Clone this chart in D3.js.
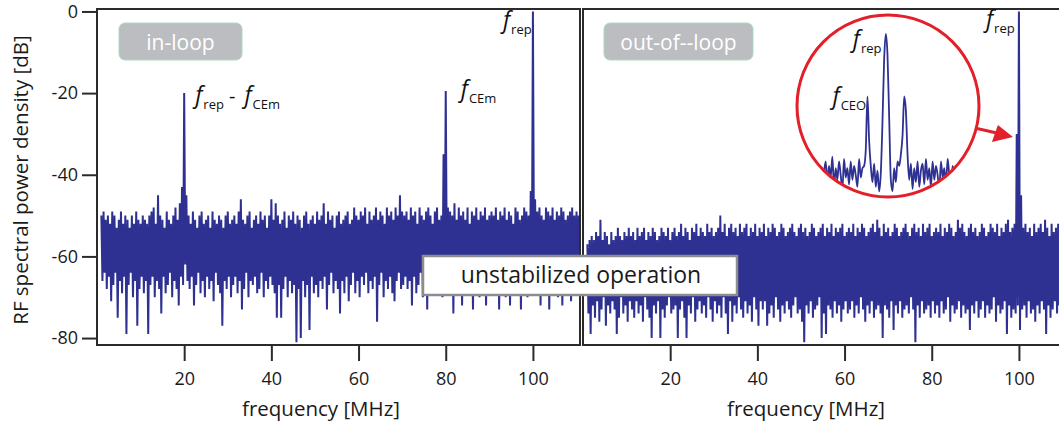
<!DOCTYPE html>
<html>
<head>
<meta charset="utf-8">
<script src="https://cdn.jsdelivr.net/npm/d3@7"></script>
<style>
  html, body { margin: 0; padding: 0; background: #fff; }
  svg { display: block; font-family: "Open Sans", "Noto Sans", sans-serif; }
</style>
</head>
<body>
<svg id="chart" width="1059" height="432"></svg>
<script>
// ---- Spectrum data: per-bin maximum / minimum level in dB ----
// Bins start at 1 MHz and are 0.5 MHz wide (20 bins per row = 10 MHz).
const freqStartMHz = 1;
const binStepMHz = 0.5;

const inLoopMax = [
  -50,-49,-51,-50,-52,-49,-50,-53,-51,-49,-52,-50,-51,-53,-50,-52,-49,-51,-52,-50,
  -51,-52,-50,-49,-48,-52,-45,-50,-51,-53,-49,-51,-52,-50,-48,-51,-47,-43,-20,-45,
  -50,-52,-49,-51,-53,-50,-49,-52,-51,-50,-53,-49,-51,-52,-50,-51,-53,-50,-49,-52,
  -51,-50,-52,-49,-46,-51,-52,-50,-49,-53,-51,-50,-52,-49,-51,-50,-53,-50,-46,-51,
  -47,-50,-52,-51,-49,-53,-50,-51,-49,-52,-50,-51,-53,-50,-49,-52,-51,-50,-52,-49,
  -51,-50,-47,-52,-49,-51,-50,-53,-50,-49,-52,-51,-50,-49,-52,-51,-48,-50,-51,-49,
  -50,-48,-52,-49,-51,-50,-48,-51,-49,-50,-52,-48,-50,-49,-51,-48,-50,-45,-49,-50,
  -49,-51,-48,-50,-49,-52,-48,-50,-51,-49,-48,-50,-52,-49,-48,-51,-50,-35,-19.5,-48,
  -49,-50,-47,-51,-48,-50,-49,-51,-48,-52,-49,-50,-48,-51,-49,-50,-48,-51,-50,-49,
  -50,-48,-51,-49,-50,-48,-51,-49,-50,-52,-48,-49,-51,-50,-48,-49,-50,-44,0,-46,
  -49,-48,-50,-51,-48,-49,-50,-48,-51,-49,-50,-48,-49,-51,-50,-49,-48,-50,-49,-50
];
const inLoopMin = [
  -66,-64,-68,-65,-71,-67,-64,-75,-66,-69,-65,-79,-67,-64,-70,-66,-77,-68,-65,-69,
  -66,-79,-67,-65,-70,-66,-68,-74,-65,-69,-67,-64,-70,-66,-68,-72,-65,-67,-62,-66,
  -68,-65,-72,-67,-64,-69,-66,-70,-65,-68,-66,-71,-64,-67,-69,-77,-66,-68,-65,-70,
  -67,-65,-69,-66,-73,-68,-64,-70,-66,-67,-65,-69,-68,-64,-70,-66,-68,-65,-67,-69,
  -75,-67,-75,-68,-65,-70,-66,-69,-67,-81,-68,-80,-66,-70,-67,-78,-65,-69,-67,-70,
  -66,-68,-65,-73,-67,-64,-69,-66,-68,-74,-66,-69,-65,-71,-67,-64,-69,-66,-70,-65,
  -67,-64,-69,-66,-68,-65,-76,-67,-64,-70,-66,-68,-65,-69,-71,-66,-64,-68,-67,-65,
  -68,-66,-72,-65,-69,-67,-64,-70,-66,-73,-65,-68,-67,-64,-69,-66,-70,-65,-62,-66,
  -67,-74,-66,-68,-65,-72,-67,-64,-69,-66,-73,-68,-65,-70,-66,-67,-72,-65,-69,-66,
  -68,-65,-73,-67,-64,-70,-66,-72,-68,-65,-69,-66,-73,-64,-68,-70,-66,-67,-62,-69,
  -66,-72,-67,-65,-69,-73,-66,-68,-64,-70,-67,-72,-65,-68,-66,-71,-67,-64,-69,-66
];

const outLoopMax = [
  -57,-56,-55,-56,-54,-55,-51,-56,-54,-55,-57,-54,-56,-55,-53,-55,-56,-54,-55,-53,
  -55,-54,-56,-53,-55,-54,-53,-56,-54,-55,-53,-54,-56,-55,-53,-54,-55,-53,-56,-54,
  -53,-55,-54,-52,-55,-53,-54,-56,-53,-54,-52,-55,-53,-54,-55,-52,-54,-53,-55,-54,
  -53,-50,-54,-52,-55,-53,-52,-54,-53,-55,-52,-54,-53,-52,-55,-53,-54,-52,-55,-53,
  -54,-52,-55,-53,-54,-52,-53,-55,-54,-52,-53,-55,-54,-53,-52,-54,-55,-53,-52,-54,
  -53,-55,-54,-52,-53,-55,-54,-53,-52,-55,-53,-54,-52,-55,-53,-54,-53,-52,-55,-54,
  -53,-54,-52,-55,-53,-54,-52,-53,-55,-54,-53,-52,-54,-51,-53,-55,-52,-54,-53,-55,
  -54,-52,-53,-55,-54,-53,-52,-54,-55,-53,-52,-54,-53,-55,-52,-54,-53,-52,-55,-54,
  -53,-54,-52,-55,-53,-54,-52,-53,-55,-54,-51,-53,-52,-54,-55,-53,-52,-54,-53,-55,
  -54,-52,-53,-55,-54,-52,-53,-54,-52,-55,-53,-54,-52,-51,-54,-53,-52,-30,0,-45,
  -53,-52,-54,-53,-55,-52,-54,-53,-52,-54,-51,-53,-55,-52,-54,-53,-52,-55,-53,-54
];
const outLoopMin = [
  -74,-79,-72,-75,-71,-76,-73,-70,-77,-72,-74,-71,-73,-79,-75,-70,-74,-72,-76,-71,
  -73,-75,-71,-74,-72,-76,-70,-73,-75,-80,-72,-74,-71,-80,-73,-75,-72,-70,-74,-73,
  -72,-80,-73,-71,-75,-80,-72,-74,-70,-76,-73,-71,-74,-72,-75,-70,-73,-76,-71,-74,
  -72,-75,-70,-74,-79,-71,-76,-72,-74,-70,-73,-75,-71,-74,-72,-76,-70,-73,-77,-71,
  -73,-71,-77,-74,-72,-75,-70,-73,-76,-72,-74,-71,-73,-75,-72,-70,-74,-73,-76,-81,
  -72,-74,-71,-75,-73,-72,-70,-80,-74,-79,-72,-73,-75,-71,-74,-72,-76,-73,-71,-74,
  -73,-71,-75,-72,-74,-70,-73,-76,-72,-74,-71,-75,-73,-72,-74,-80,-72,-73,-75,-71,
  -78,-72,-74,-71,-75,-73,-72,-74,-70,-73,-81,-72,-75,-71,-74,-73,-72,-75,-71,-74,
  -72,-75,-71,-74,-73,-70,-76,-72,-74,-73,-71,-75,-72,-74,-73,-78,-72,-74,-71,-75,
  -73,-71,-75,-72,-74,-73,-70,-76,-72,-74,-73,-71,-79,-72,-75,-73,-74,-72,-78,-73,
  -72,-75,-71,-74,-73,-76,-72,-74,-71,-73,-79,-72,-75,-73,-71,-74,-72,-76,-73,-74
];

// Zoomed view around f_rep (relative level in dB, evenly spaced samples)
const insetLevels = [
  -60,-55,-64,-57,-62,-53,-66,-58,-63,-55,-61,-67,-54,-62,-58,-65,-55,-63,-57,-61,
  -66,-54,-62,-58,-57,-50,-27,-46,-57,-64,-56,-66,-59,-68,-60,-38,-11,0,-9,-36,
  -63,-68,-58,-64,-55,-57,-52,-44,-27,-33,-52,-63,-56,-67,-58,-64,-55,-66,-59,-56,
  -65,-54,-63,-58,-66,-55,-63,-57,-61,-67,-55,-62,-58,-65,-54,-61,-64,-57,-62,-58
];

const xTicks = [20, 40, 60, 80, 100];
const yTicks = [0, -20, -40, -60, -80];

// ---- Layout ----
const traceColor = "#2e3192";
const frameColor = "#2b2b2b";
const svg = d3.select("#chart");
const plotTop = 9, plotBottom = 345;
const y = d3.scaleLinear().domain([-81.7, 0.6]).range([plotBottom, plotTop]);

const panels = [
  { id: "inloop", x0: 97, x1: 580, maxV: inLoopMax, minV: inLoopMin,
    tag: "in-loop", tagBox: [119, 242], yAxis: true, closed: true, titleX: 321 },
  { id: "outloop", x0: 583, x1: 1066, maxV: outLoopMax, minV: outLoopMin,
    tag: "out-of--loop", tagBox: [604, 753], yAxis: false, closed: false, titleX: 806 }
];

const defs = svg.append("defs");
const plainNum = d => String(d);

panels.forEach(p => {
  p.x = d3.scaleLinear().domain([0, 110.8]).range([p.x0, p.x1]);
  const g = svg.append("g").attr("class", "panel-" + p.id);

  defs.append("clipPath").attr("id", "clip-" + p.id)
    .append("rect").attr("x", p.x0).attr("y", plotTop)
    .attr("width", p.x1 - p.x0).attr("height", plotBottom - plotTop);

  // alternating max/min points per bin
  const pts = [];
  p.maxV.forEach((v, i) => {
    const f = freqStartMHz + i * binStepMHz;
    pts.push({ f: f, v: v });
    pts.push({ f: f + binStepMHz / 2, v: p.minV[i] });
  });
  const line = d3.line().x(d => p.x(d.f)).y(d => y(d.v));
  g.append("path")
    .attr("clip-path", "url(#clip-" + p.id + ")")
    .attr("d", line(pts))
    .attr("fill", "none")
    .attr("stroke", traceColor)
    .attr("stroke-width", 2)
    .attr("stroke-linejoin", "bevel");

  // frame
  const fr = g.append("g").attr("stroke", frameColor).attr("stroke-width", 2).attr("fill", "none");
  if (p.closed) {
    fr.append("rect").attr("x", p.x0).attr("y", plotTop)
      .attr("width", p.x1 - p.x0).attr("height", plotBottom - plotTop);
  } else {
    fr.append("path").attr("d",
      `M${p.x1},${plotTop}H${p.x0}V${plotBottom}H${p.x1}`);
  }

  // x axis
  const xa = g.append("g").attr("transform", `translate(0,${plotBottom})`)
    .call(d3.axisBottom(p.x).tickValues(xTicks).tickFormat(plainNum)
      .tickSize(16).tickSizeOuter(0).tickPadding(11));
  xa.select(".domain").remove();
  xa.selectAll(".tick line").attr("stroke", frameColor).attr("stroke-width", 2);
  xa.selectAll(".tick text").attr("fill", "#1a1a1a").style("font-size", "18px")
    .style("font-family", "'Open Sans','Noto Sans',sans-serif");

  g.append("text")
    .attr("x", p.titleX)
    .attr("y", 416)
    .attr("text-anchor", "middle")
    .attr("fill", "#1a1a1a")
    .style("font-size", "20.5px")
    .text("frequency [MHz]");

  if (p.yAxis) {
    const ya = g.append("g").attr("transform", `translate(${p.x0},0)`)
      .call(d3.axisLeft(y).tickValues(yTicks).tickFormat(plainNum)
        .tickSize(15).tickSizeOuter(0).tickPadding(4));
    ya.select(".domain").remove();
    ya.selectAll(".tick line").attr("stroke", frameColor).attr("stroke-width", 2);
    ya.selectAll(".tick text").attr("fill", "#1a1a1a").style("font-size", "18px")
      .style("font-family", "'Open Sans','Noto Sans',sans-serif");
  }

  // panel tag
  g.append("rect").attr("x", p.tagBox[0]).attr("y", 23)
    .attr("width", p.tagBox[1] - p.tagBox[0]).attr("height", 37)
    .attr("rx", 6).attr("fill", "#bcbdc0").attr("stroke", "#a9dcbb").attr("stroke-width", 1);
  g.append("text").attr("x", (p.tagBox[0] + p.tagBox[1]) / 2).attr("y", 50)
    .attr("text-anchor", "middle").attr("fill", "#fff").style("font-size", "21px")
    .text(p.tag);
});

// y axis title
svg.append("text")
  .attr("transform", "translate(28,180) rotate(-90)")
  .attr("text-anchor", "middle")
  .attr("fill", "#1a1a1a")
  .style("font-size", "20.5px")
  .text("RF spectral power density [dB]");

// ---- Peak annotations: italic f with subscript ----
function fLabel(px, py, parts) {
  const t = svg.append("text").attr("x", px).attr("y", py).attr("fill", "#111");
  parts.forEach(pt => {
    if (pt.f) {
      t.append("tspan").attr("dy", pt.dy || 0).attr("dx", pt.dx || 0).style("font-style", "italic")
        .style("font-size", "23px").text("f");
    } else if (pt.sub) {
      t.append("tspan").attr("dy", 6).attr("dx", 1).style("font-size", "13px").text(pt.sub);
    } else if (pt.txt) {
      t.append("tspan").attr("dy", -6).attr("dx", 5).style("font-size", "20px").text(pt.txt);
    }
  });
}
const xIn = panels[0].x, xOut = panels[1].x;
fLabel(xIn(20) + 11, 103, [{ f: true }, { sub: "rep" }, { txt: "-" }, { f: true, dx: 9 }, { sub: "CEm" }]);
fLabel(xIn(80) + 15, 97, [{ f: true }, { sub: "CEm" }]);
fLabel(xIn(100) - 30, 28, [{ f: true }, { sub: "rep" }]);
fLabel(xOut(100) - 33, 27, [{ f: true }, { sub: "rep" }]);

// ---- Magnified inset ----
const inset = { cx: 888, cy: 106, r: 91 };
defs.append("clipPath").attr("id", "clip-inset")
  .append("circle").attr("cx", inset.cx).attr("cy", inset.cy).attr("r", inset.r - 1);
const ix = d3.scaleLinear().domain([0, insetLevels.length - 1]).range([824, 956]);
const iy = d3.scaleLinear().domain([-70, 0]).range([196, 34]);
svg.append("circle").attr("cx", inset.cx).attr("cy", inset.cy).attr("r", inset.r)
  .attr("fill", "#fff");
svg.append("path")
  .attr("clip-path", "url(#clip-inset)")
  .attr("d", d3.line().x((d, i) => ix(i)).y(d => iy(d)).curve(d3.curveMonotoneX)(insetLevels))
  .attr("fill", "none").attr("stroke", traceColor).attr("stroke-width", 1.8);
svg.append("circle").attr("cx", inset.cx).attr("cy", inset.cy).attr("r", inset.r)
  .attr("fill", "none").attr("stroke", "#e3202a").attr("stroke-width", 3);
fLabel(ix(37) - 33, 47, [{ f: true }, { sub: "rep" }]);
fLabel(ix(26) - 35, 104, [{ f: true }, { sub: "CEO" }]);

// arrow from inset to the f_rep line
const tip = [xOut(100) - 6, y(-30) + 3];
svg.append("line").attr("x1", 977).attr("y1", 128.5).attr("x2", tip[0] - 14).attr("y2", tip[1] - 3.5)
  .attr("stroke", "#e3202a").attr("stroke-width", 3);
svg.append("path")
  .attr("d", `M${tip[0]},${tip[1]}L${tip[0] - 21},${tip[1] + 5}L${tip[0] - 15},${tip[1] - 12}Z`)
  .attr("fill", "#e3202a");

// ---- "unstabilized operation" banner ----
svg.append("rect").attr("x", 423).attr("y", 256).attr("width", 314).attr("height", 39)
  .attr("fill", "#fff").attr("stroke", "#8c8c8c").attr("stroke-width", 2.5);
svg.append("text").attr("x", 581).attr("y", 283).attr("text-anchor", "middle")
  .attr("fill", "#1a1a1a").style("font-size", "23px").text("unstabilized operation");
</script>
</body>
</html>
